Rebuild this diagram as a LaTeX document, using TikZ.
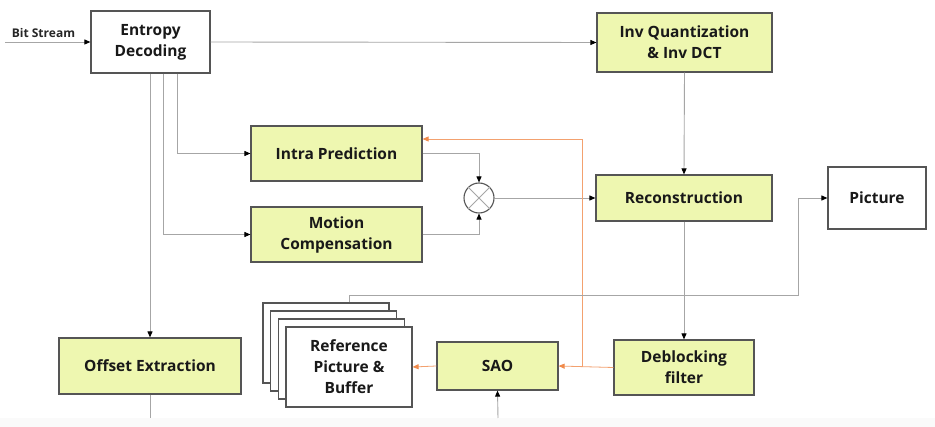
\documentclass[tikz,border=0pt]{standalone}
\usepackage{fontspec}
\setmainfont{Open Sans}
\usetikzlibrary{arrows.meta,calc}
\definecolor{boxfill}{HTML}{EEF7B0}
\definecolor{boxdraw}{HTML}{555555}
\definecolor{linegray}{HTML}{A6A6A6}
\definecolor{arrorange}{HTML}{F08A4B}
\begin{document}
\begin{tikzpicture}[x=1pt,y=-1pt,
  ybox/.style={draw=boxdraw,fill=boxfill,line width=1.2pt,inner sep=0pt,align=center,font=\fontsize{15.5}{21}\selectfont\bfseries,text=black!90},
  wbox/.style={draw=boxdraw,fill=white,line width=1.2pt,inner sep=0pt,align=center,font=\fontsize{15.5}{21}\selectfont\bfseries,text=black!90},
  conn/.style={draw=linegray,line width=0.9pt,-{Triangle[length=6pt,width=5pt,black]}},
  plainline/.style={draw=linegray,line width=0.9pt},
  oconn/.style={draw=arrorange!80,line width=0.8pt,-{Triangle[length=6pt,width=5pt,arrorange]}},
  oline/.style={draw=arrorange!80,line width=0.8pt}]
\useasboundingbox (0,0) rectangle (935,427);
\fill[white] (0,0) rectangle (935,427);
\fill[black!2] (0,418) rectangle (935,427);
% nodes
\node[wbox,minimum width=119pt,minimum height=62pt] (ent) at (150.5,42) {Entropy\\Decoding};
\node[ybox,minimum width=175pt,minimum height=59pt] (invq) at (684.5,42.5) {Inv Quantization\\\& Inv DCT};
\node[ybox,minimum width=176pt,minimum height=46pt] (rec) at (684,198) {Reconstruction};
\node[ybox,minimum width=171pt,minimum height=55pt] (intra) at (336.5,153.5) {Intra Prediction};
\node[ybox,minimum width=171pt,minimum height=55pt] (mc) at (336.5,234.5) {Motion\\Compensation};
\node[draw=boxdraw,line width=1.1pt,circle,minimum size=30pt,inner sep=0pt] (sum) at (479,198) {};
\draw[linegray,line width=0.8pt] (sum.north west) -- (sum.south east) (sum.north east) -- (sum.south west);
\node[ybox,minimum width=182pt,minimum height=56pt] (off) at (150,366) {Offset Extraction};
\node[wbox,minimum width=126pt,minimum height=80pt] (b1) at (326,343) {};
\node[wbox,minimum width=126pt,minimum height=80pt] (b2) at (333.7,351) {};
\node[wbox,minimum width=126pt,minimum height=80pt] (b3) at (341.3,359) {};
\node[wbox,minimum width=126pt,minimum height=80pt] (ref) at (349,367) {Reference\\Picture \&\\Buffer};
\node[ybox,minimum width=121pt,minimum height=48pt] (sao) at (497.5,366) {SAO};
\node[ybox,minimum width=140pt,minimum height=55pt] (dbf) at (684,367.5) {Deblocking\\filter};
\node[wbox,minimum width=98pt,minimum height=62pt] (pic) at (877,198) {Picture};
% coordinates
\coordinate (bsin) at (5,42);
\coordinate (turn) at (798,295);
\coordinate (oj) at (582,367);
\coordinate (saoin) at (498,418);
\coordinate (offout) at (150,418);
% connectors
\draw[conn] (bsin) -- (ent.west) node[pos=0.45,above=0.5pt,font=\fontsize{12}{13}\selectfont\bfseries,text=black!85] {Bit Stream};
\draw[conn] (ent.east) -- (invq.west);
\draw[conn] (invq.south) -- (rec.north);
\draw[conn] ([xshift=26.5pt]ent.south) |- (intra.west);
\draw[conn] ([xshift=12.5pt]ent.south) |- (mc.west);
\draw[conn] (off.north |- ent.south) -- (off.north);
\draw[conn] (intra.east) -| (sum.north);
\draw[conn] (mc.east) -| (sum.south);
\draw[conn] (sum.east) -- (rec.west);
\draw[conn] (rec.south) -- (dbf.north);
\draw[oconn] (dbf.west) -- (sao.east);
\draw[oconn] (sao.west) -- (ref.east);
\draw[oconn] (oj) |- ([yshift=14.5pt]intra.east);
\draw[conn] (ref.north |- b1.north) |- (turn) |- (pic.west);
\draw[conn] (saoin) -- (sao.south);
\draw[plainline] (off.south) -- (offout);
\end{tikzpicture}
\end{document}
